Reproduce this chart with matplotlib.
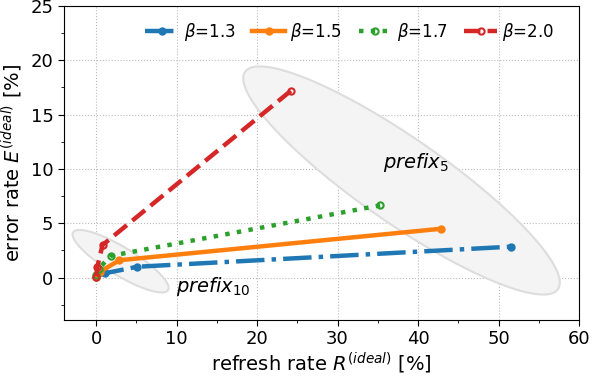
import numpy as np
import matplotlib
matplotlib.use("Agg")
import matplotlib.pyplot as plt
from matplotlib.ticker import MultipleLocator

# Data (refresh rate R [%], error rate E [%]) per beta
betas = ["1.3", "1.5", "1.7", "2.0"]
r_b13 = [0.0, 1.1, 5.1, 51.6]
e_b13 = [0.1, 0.4, 1.0, 2.85]
r_b15 = [0.0, 0.5, 2.9, 42.9]
e_b15 = [0.1, 0.55, 1.6, 4.5]
r_b17 = [0.0, 0.3, 1.8, 35.3]
e_b17 = [0.2, 0.8, 2.0, 6.65]
r_b20 = [0.0, 0.15, 0.8, 24.2]
e_b20 = [0.1, 1.0, 3.0, 17.2]

colors = ["#1f77b4", "#ff7f0e", "#2ca02c", "#d62728"]
styles = ["-.", "-", ":", "--"]

fig = plt.figure(figsize=(5.92, 3.76), dpi=100)
ax = fig.add_axes([0.108, 0.149, 0.870, 0.835])

def ellipse(ax, center, u, v, **kw):
    t = np.linspace(0, 2 * np.pi, 200)
    xs = center[0] + np.cos(t) * u[0] + np.sin(t) * v[0]
    ys = center[1] + np.cos(t) * u[1] + np.sin(t) * v[1]
    ax.fill(xs, ys, **kw)

ell_kw = dict(facecolor="#f4f4f4", edgecolor="#dddddd", lw=1.5, zorder=1)
ellipse(ax, (37.95, 8.94), (19.44, -10.0), (3.0, 3.2), **ell_kw)
ellipse(ax, (3.04, 1.51), (5.9, -2.66), (0.9, 1.1), **ell_kw)

data = [(r_b13, e_b13), (r_b15, e_b15), (r_b17, e_b17), (r_b20, e_b20)]
for i, (r, e) in enumerate(data):
    mfc = colors[i] if i < 2 else "none"
    ax.plot(r, e, linestyle=styles[i], color=colors[i], lw=3.2,
            marker="o", ms=4.5, mfc=mfc, mew=1.5,
            label=r"$\beta$=" + betas[i], zorder=3)

ax.text(35.6, 10.6, r"$prefix_5$", fontsize=14, ha="left", va="center", zorder=4)
ax.text(9.9, -0.8, r"$prefix_{10}$", fontsize=14, ha="left", va="center", zorder=4)

ax.xaxis.set_major_locator(MultipleLocator(10))
ax.xaxis.set_minor_locator(MultipleLocator(5))
ax.yaxis.set_major_locator(MultipleLocator(5))
ax.yaxis.set_minor_locator(MultipleLocator(2.5))
ax.set_xlim(-4, 60)
ax.set_ylim(-3.9, 25)
ax.tick_params(axis="both", which="major", labelsize=13, direction="out", length=4)
ax.tick_params(axis="both", which="minor", direction="out", length=2.5)
ax.grid(True, which="major", linestyle=":", color="#bbbbbb", lw=0.8)
ax.set_axisbelow(True)

ax.set_xlabel(r"refresh rate $R^{(ideal)}$ [%]", fontsize=14, labelpad=2)
ax.set_ylabel(r"error rate $E^{(ideal)}$ [%]", fontsize=14, labelpad=4)

ax.legend(loc="upper center", ncol=4, frameon=False, fontsize=12,
          bbox_to_anchor=(0.555, 1.0), handlelength=2.0, columnspacing=1.0,
          handletextpad=0.3, numpoints=1)

fig.savefig("out.png", dpi=100)
